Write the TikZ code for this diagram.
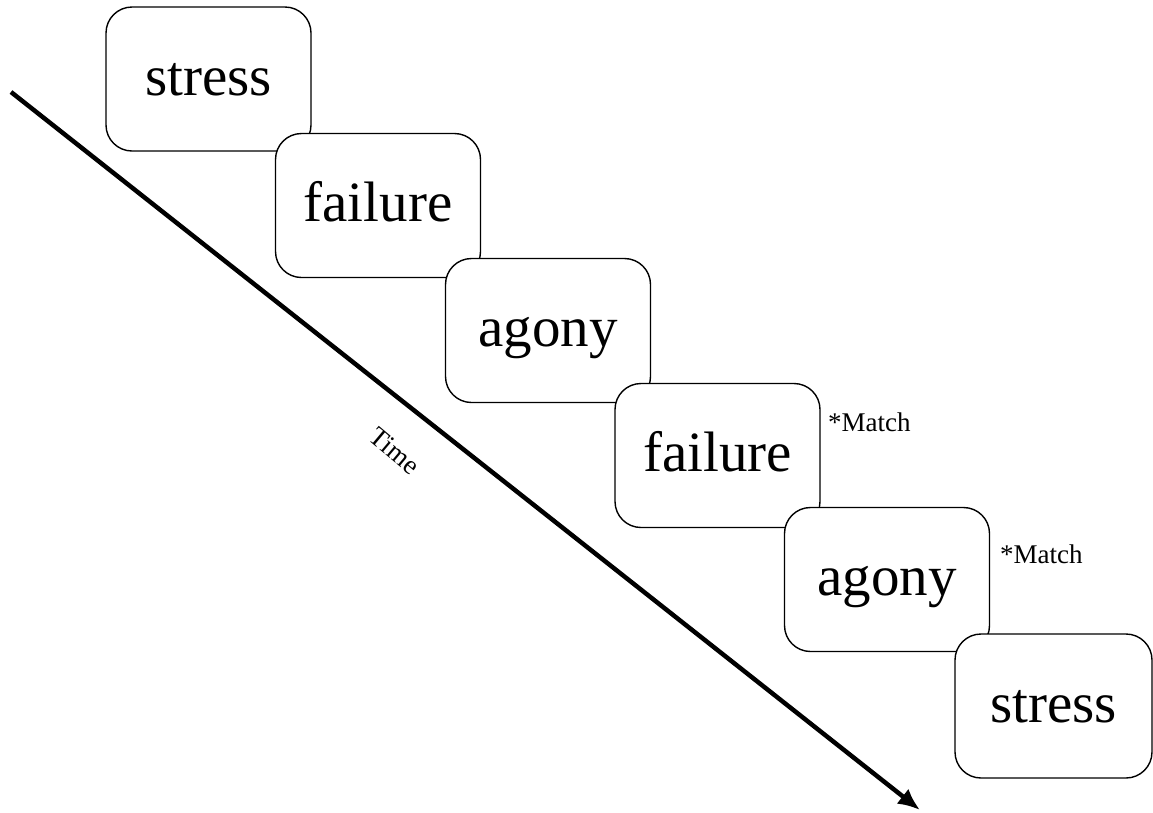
\documentclass[tikz,border=0pt]{standalone}
\usepackage{fontspec}
\setmainfont{Liberation Serif}
\usetikzlibrary{arrows.meta}
\begin{document}
\begin{tikzpicture}[x=1pt,y=-1pt,
  card/.style={draw=black, line width=1.4pt, fill=white, rounded corners=26pt,
    minimum width=205pt, minimum height=144pt, inner sep=0pt,
    font=\fontsize{57}{60}\selectfont, text height=42pt, text depth=10pt},
  note/.style={font=\fontsize{27}{30}\selectfont, anchor=base west, inner sep=0pt},
  timeline/.style={line width=4.5pt, -{Latex[length=22pt,width=19pt]}}]
\useasboundingbox (0,0) rectangle (1153,812);

% time axis
\coordinate (t0) at (11,92);
\coordinate (t1) at (920,810);
\draw[timeline] (t0) -- (t1);
\node[font=\fontsize{27}{29}\selectfont, rotate=-40, inner sep=0pt] (time) at (395,451) {Time};

% word sequence
\node[card] (w1) at (208.5,79)   {stress};
\node[card] (w2) at (378,205.5)  {failure};
\node[card] (w3) at (548,330.5)  {agony};
\node[card] (w4) at (717.5,455.5){failure};
\node[card] (w5) at (887,579.5)  {agony};
\node[card, minimum width=197pt] (w6) at (1053.5,706) {stress};

% repeated-word markers
\node[note] (m1) at (828,431) {*Match};
\node[note] (m2) at (1000,563) {*Match};
\end{tikzpicture}
\end{document}
